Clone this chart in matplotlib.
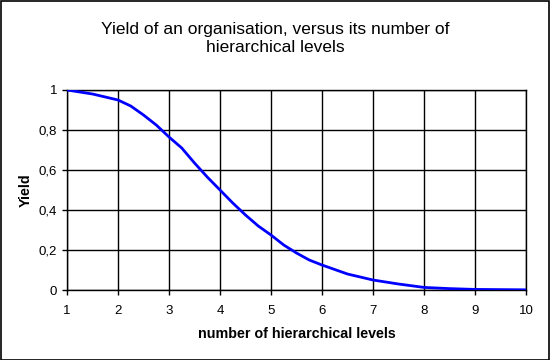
import matplotlib
matplotlib.use("Agg")
import matplotlib.pyplot as plt
from matplotlib.patches import Rectangle

plt.rcParams['font.family'] = ['Liberation Sans', 'DejaVu Sans']

# levels and yield
levels = [1, 1.25, 1.5, 1.75, 2, 2.25, 2.5, 2.75, 3, 3.25, 3.5, 3.75, 4, 4.25,
          4.5, 4.75, 5, 5.25, 5.5, 5.75, 6, 6.5, 7, 7.5, 8, 8.5, 9, 9.5, 10]
yield_vals = [1.0, 0.99, 0.98, 0.965, 0.95, 0.92, 0.875, 0.825, 0.765, 0.71,
              0.635, 0.565, 0.5, 0.435, 0.375, 0.32, 0.275, 0.225, 0.185, 0.15,
              0.125, 0.08, 0.05, 0.03, 0.013, 0.007, 0.003, 0.002, 0.001]

x_ticks = [1, 2, 3, 4, 5, 6, 7, 8, 9, 10]
y_ticks = [0, 0.2, 0.4, 0.6, 0.8, 1]
y_tick_labels = ['0', '0,2', '0,4', '0,6', '0,8', '1']

fig = plt.figure(figsize=(5.5, 3.6), dpi=100)
ax = fig.add_axes([0.1218, 0.1944, 0.8346, 0.5556])

ax.plot(levels, yield_vals, color='#0000ff', linewidth=2, zorder=3)

ax.set_xlim(1, 10)
ax.set_ylim(0, 1)
ax.set_xticks(x_ticks)
ax.set_yticks(y_ticks)
ax.set_yticklabels(y_tick_labels)
ax.grid(True, color='black', linewidth=1)
ax.tick_params(direction='out', length=3.6, width=1, colors='black', labelsize=9.5)
ax.tick_params(axis='x', pad=7.5)
for s in ax.spines.values():
    s.set_color('black')
    s.set_linewidth(1)

ax.set_xlabel('number of hierarchical levels', fontsize=10.3, fontweight='bold', labelpad=7)
ax.set_ylabel('Yield', fontsize=10.3, fontweight='bold')
ax.yaxis.set_label_coords(-0.074, 0.5)

fig.text(0.5, 0.893, 'Yield of an organisation, versus its number of\nhierarchical levels',
         ha='center', va='center', fontsize=12.5, linespacing=1.3)

# border around the whole chart
fig.patches.append(Rectangle((0.001, 0.001), 0.997, 0.996, transform=fig.transFigure,
                             fill=False, edgecolor='black', linewidth=1.2))

fig.savefig('out.png', dpi=100)
